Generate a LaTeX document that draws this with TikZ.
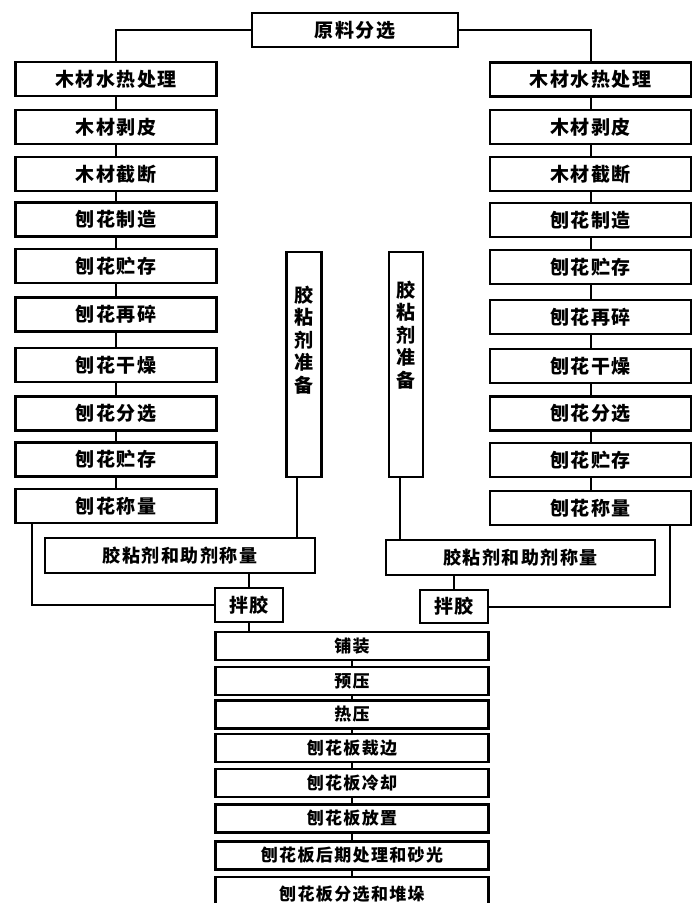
\documentclass[tikz,border=0pt]{standalone}
\usepackage{fontspec}
\newfontfamily\cjk[LetterSpace=8]{Noto Sans CJK SC}
\begin{document}
\begin{tikzpicture}[x=1pt,y=-1pt,
  box/.style={draw, line width=2.4pt, inner sep=0pt, font=\cjk\bfseries\fontsize{17}{19}\selectfont},
  wbox/.style={box, font=\cjk\bfseries\fontsize{19}{21}\selectfont},
  colbox/.style={wbox, minimum width=201pt, minimum height=34pt},
  midbox/.style={box, minimum width=273pt, minimum height=28pt},
  glue/.style={draw, line width=2.4pt, minimum width=35pt, minimum height=225pt, inner sep=0pt},
  vtext/.style={font=\cjk\bfseries\fontsize{19}{22.5}\selectfont, align=center, inner sep=0pt},
  conn/.style={line width=2pt}]
\useasboundingbox (0,0) rectangle (696,903);
\clip (0,0) rectangle (696,903);
\fill[white] (0,0) rectangle (696,903);

\node[wbox, minimum width=206pt, minimum height=34pt] (top) at (355,30) {原料分选};

\foreach \y/\t [count=\i] in {79/木材水热处理,127/木材剥皮,174/木材截断,219.5/刨花制造,266/刨花贮存,314.5/刨花再碎,365/刨花干燥,413.5/刨花分选,459.5/刨花贮存,506/刨花称量}
  \node[colbox] (L\i) at (116,\y) {\t};
\foreach \y/\t [count=\i] in {79.5/木材水热处理,127/木材剥皮,174/木材截断,220/刨花制造,267/刨花贮存,317/刨花再碎,366/刨花干燥,413.5/刨花分选,460/刨花贮存,508/刨花称量}
  \node[colbox] (R\i) at (590.5,\y) {\t};

\node[glue] (GL) at (304,364.5) {};
\node[vtext] (GLt) at (304,340) {胶\\粘\\剂\\准\\备};
\node[glue, minimum width=34pt] (GR) at (406,364.5) {};
\node[vtext] (GRt) at (406,335) {胶\\粘\\剂\\准\\备};

\node[box, font=\cjk\bfseries\fontsize{18}{20}\selectfont, minimum width=270pt, minimum height=35pt] (WL) at (180,555.5) {胶粘剂和助剂称量};
\node[box, font=\cjk\bfseries\fontsize{18}{20}\selectfont, minimum width=269pt, minimum height=35pt] (WR) at (520.5,557.5) {胶粘剂和助剂称量};

\node[wbox, minimum width=68pt, minimum height=34pt] (BL) at (249,605) {拌胶};
\node[wbox, minimum width=68pt, minimum height=33pt] (BR) at (454,606.5) {拌胶};

\foreach \y/\t [count=\i] in {646/铺装,681/预压,714.5/热压,748/刨花板裁边,783/刨花板冷却,818.5/刨花板放置,855.5/刨花板后期处理和砂光}
  \node[midbox] (M\i) at (352,\y) {\t};
\node[box, minimum width=273pt, minimum height=34pt] (M8) at (352,894) {刨花板分选和堆垛};

% connectors
\draw[conn] (top.west) -| (L1.north);
\draw[conn] (top.east) -| (R1.north);
\foreach \i/\j in {1/2,2/3,3/4,4/5,5/6,6/7,7/8,8/9,9/10} {
  \draw[conn] (L\i.south) -- (L\j.north);
  \draw[conn] (R\i.south) -- (R\j.north);
}
\foreach \i/\j in {1/2,2/3,3/4,4/5,5/6,6/7,7/8}
  \draw[conn] (M\i.south) -- (M\j.north);

\draw[conn] ([xshift=-84pt]L10.south) |- (BL.west);
\draw[conn] ([xshift=79.5pt]R10.south) |- (BR.east);
\draw[conn] ([xshift=-7pt]GL.south) -- ([xshift=-7pt]GL.south |- WL.north);
\draw[conn] ([xshift=-6pt]GR.south) -- ([xshift=-6pt]GR.south |- WR.north);
\draw[conn] (BL.north) -- (BL.north |- WL.south);
\draw[conn] (BR.north) -- (BR.north |- WR.south);
\draw[conn] (BL.south) -- (BL.south |- M1.north);
\end{tikzpicture}
\end{document}
